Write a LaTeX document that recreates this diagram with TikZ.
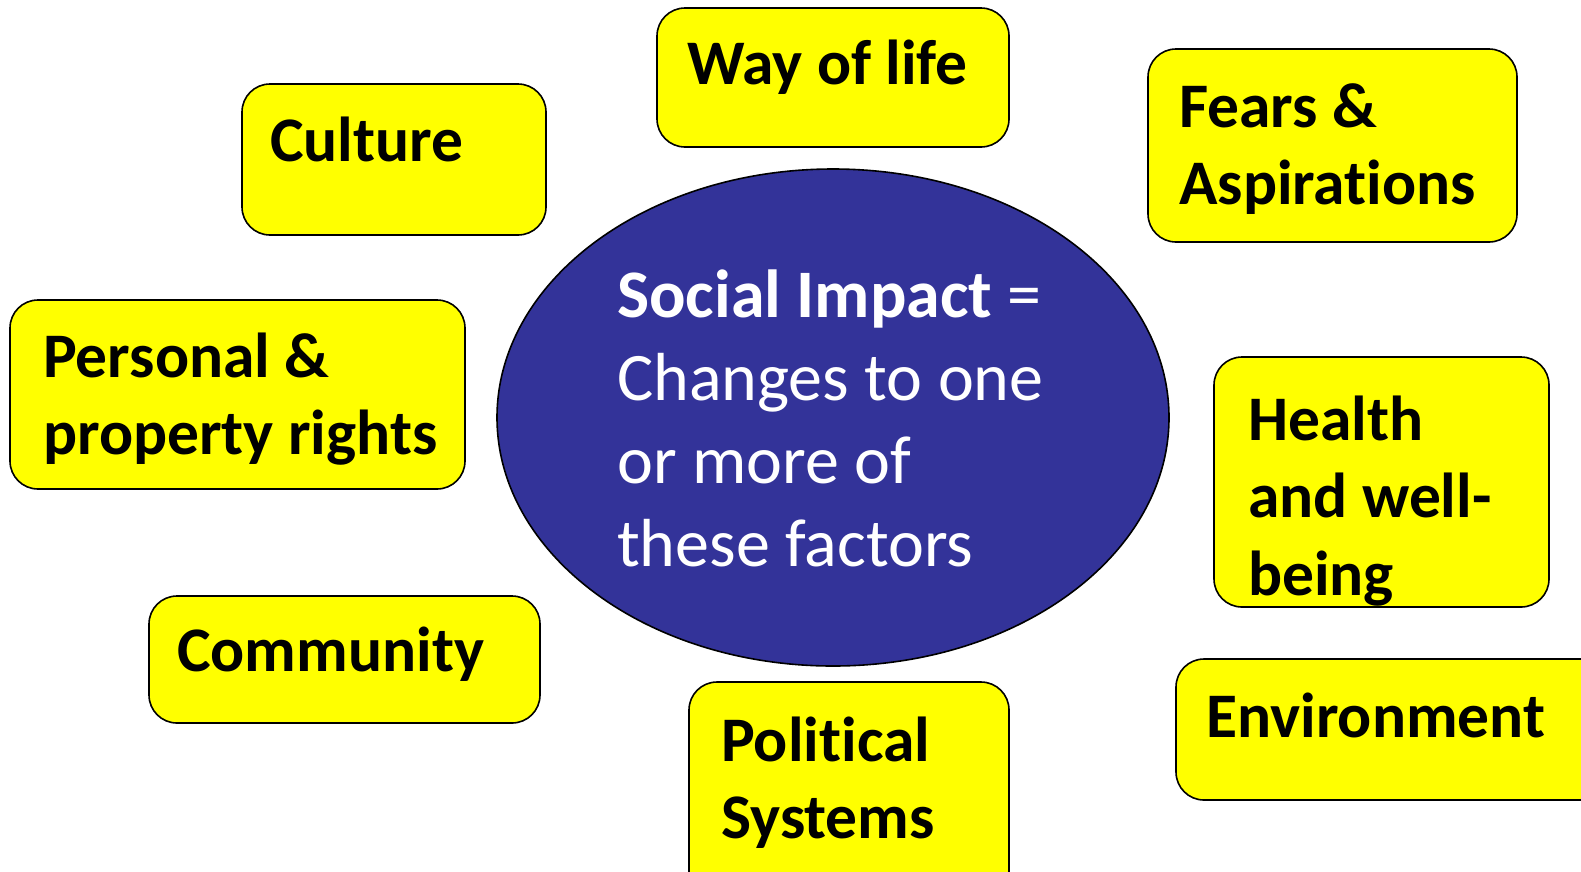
\documentclass[tikz,border=0pt]{standalone}
\usepackage{fontspec}
\setmainfont{Carlito}[Ligatures=NoCommon]
\usetikzlibrary{shapes.geometric}

\definecolor{hubblue}{RGB}{51,51,153}
\definecolor{boxyellow}{RGB}{255,255,0}

\tikzset{
  box/.style={draw=black, fill=boxyellow, line width=1.6pt, rounded corners=28pt},
  boxtext/.style={anchor=base west, inner sep=0pt, text width=460pt, align=flush left,
    font=\fontsize{63.5}{77.5}\selectfont\bfseries},
  hub/.style={ellipse, draw=black, fill=hubblue, line width=1.6pt,
    inner sep=0pt, minimum width=672pt, minimum height=497pt},
  hubtext/.style={anchor=base west, inner sep=0pt, text width=460pt, align=flush left,
    text=white, font=\fontsize{68}{83}\selectfont}
}

\begin{document}
\begin{tikzpicture}[x=1pt, y=-1pt]

% Fix the page to the picture size, and cut off what runs past it.
\useasboundingbox (0,0) rectangle (1581,871);
\clip (0,0) rectangle (1581,871);
\fill[white] (0,0) rectangle (1581,871);

% The centre ellipse and its text.
\node[hub] (impact) at (833,417.5) {};
\node[hubtext] (impacttext) at (617,317)
  {\textbf{Social Impact} =\\ Changes to one\\ or more of\\ these factors};

% The yellow boxes: corners first, then where the first baseline starts.
\foreach \nm/\xa/\ya/\xb/\yb/\tx/\ty/\txt in {
  way/657/8/1009/147/687/84/{Way of life},
  culture/242/84/546/235/270/161/{Culture},
  fears/1148/49/1517/242/1179/127/{Fears \&\\ Aspirations},
  personal/10/300/465/489/43/377/{Personal \&\\ property rights},
  health/1214/357/1549/607/1248/440/{Health\\ and well-\\ being},
  community/149/596/540/723/177/671/{Community},
  political/689/682/1009/910/721/761/{Political\\ Systems},
  environment/1176/659/1640/800/1206/737/{Environment}
} {
  \draw[box] (\xa,\ya) rectangle (\xb,\yb);
  \node[boxtext] (\nm) at (\tx,\ty) {\txt};
}

\end{tikzpicture}
\end{document}
